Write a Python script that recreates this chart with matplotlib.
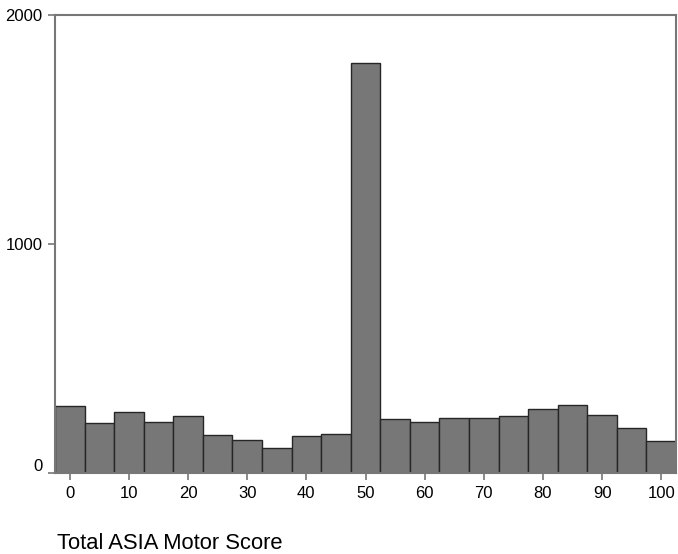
import matplotlib
matplotlib.use("Agg")
import matplotlib.pyplot as plt
import matplotlib.transforms as mtransforms

bin_centers = [0, 5, 10, 15, 20, 25, 30, 35, 40, 45, 50, 55, 60, 65, 70, 75, 80, 85, 90, 95, 100]
counts = [293, 218, 265, 224, 249, 164, 146, 111, 163, 169, 1792, 236, 224, 241, 241, 249, 281, 298, 255, 196, 140]
x_ticks = [0, 10, 20, 30, 40, 50, 60, 70, 80, 90, 100]
y_ticks = [0, 1000, 2000]
x_label = "Total ASIA Motor Score"

plt.rcParams['font.family'] = ['Liberation Sans', 'DejaVu Sans']

fig = plt.figure(figsize=(6.78, 5.54), dpi=100)
ax = fig.add_axes([55/678, 1-473/554, (676-55)/678, (473-15)/554])

ax.bar(bin_centers, counts, width=5, color='#777777', edgecolor='#262626', linewidth=1.0, align='center')
ax.set_xlim(-2.5, 102.5)
ax.set_ylim(0, 2000)
ax.set_xticks(x_ticks)
ax.set_yticks(y_ticks)
ax.tick_params(axis='both', labelsize=12, color='#777777', length=5, width=1.2, pad=4)
for s in ax.spines.values():
    s.set_color('#777777')
    s.set_linewidth(1.5)

# raise the "0" label slightly, as in the reference
fig.canvas.draw()
ylabels = ax.get_yticklabels()
offset = mtransforms.ScaledTranslation(0, 8/100, fig.dpi_scale_trans)
ylabels[0].set_transform(ylabels[0].get_transform() + offset)

fig.text(57/678, 1-549/554, x_label, fontsize=15.8, ha='left', va='baseline')

fig.savefig("out.png", dpi=100)
